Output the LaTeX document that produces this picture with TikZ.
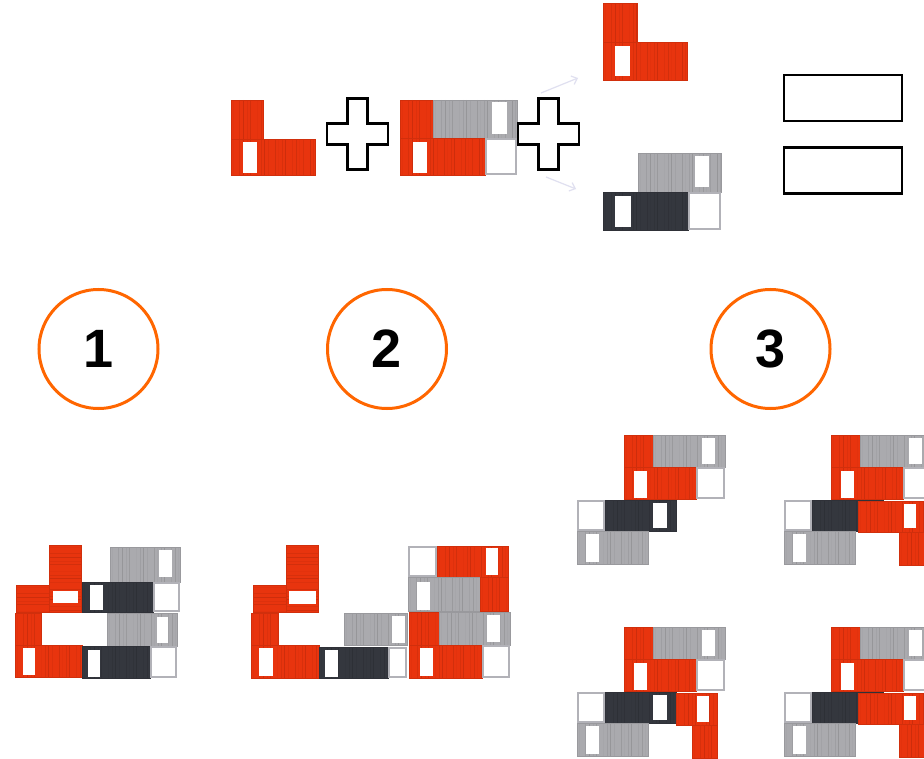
\documentclass[tikz,border=0pt]{standalone}
\usepackage{fontspec}
\newfontfamily\numfont{Liberation Sans}
\usetikzlibrary{arrows.meta}

\definecolor{cred}{RGB}{232,52,14}
\definecolor{cgray}{RGB}{170,170,174}
\definecolor{cdark}{RGB}{52,55,62}
\definecolor{cslot}{RGB}{178,178,184}
\definecolor{corange}{RGB}{255,102,0}
\definecolor{cfaint}{RGB}{224,224,240}

% container with vertical corrugation: colour, (x1,y1) to (x2,y2)
\newcommand\ctv[5]{%
  \fill[#1] (#2,#3) rectangle (#4,#5);
  \begin{scope}
    \clip (#2,#3) rectangle (#4,#5);
    \foreach \i in {0,...,22}{%
      \pgfmathsetmacro\xx{#2+2+\i*4.4+0.8*mod(\i*3,4)}%
      \pgfmathsetmacro\op{0.05+0.06*mod(\i*7,5)}%
      \draw[#1!60!black, opacity=\op, line width=0.8pt] (\xx,#3) -- (\xx,#5);
    }
  \end{scope}
  \draw[#1!90!black, line width=0.4pt] (#2,#3) rectangle (#4,#5);
}
% container standing on end, horizontal corrugation
\newcommand\cth[5]{%
  \fill[#1] (#2,#3) rectangle (#4,#5);
  \begin{scope}
    \clip (#2,#3) rectangle (#4,#5);
    \foreach \i in {0,...,22}{%
      \pgfmathsetmacro\yy{#3+2+\i*4.4+0.8*mod(\i*3,4)}%
      \pgfmathsetmacro\op{0.05+0.06*mod(\i*7,5)}%
      \draw[#1!60!black, opacity=\op, line width=0.8pt] (#2,\yy) -- (#4,\yy);
    }
  \end{scope}
  \draw[#1!90!black, line width=0.4pt] (#2,#3) rectangle (#4,#5);
}
% door opening
\newcommand\wnd[4]{\fill[white] (#1,#2) rectangle (#3,#4);}
% empty frame position
\newcommand\slt[4]{\filldraw[fill=white, draw=cslot, line width=2.4pt]
  (#1+1.2,#2+1.2) rectangle (#3-1.2,#4-1.2);}
% plus sign centred at (#1,#2)
\newcommand\plusmark[2]{%
  \draw[line width=2.4pt, line join=miter] (#1-10,#2-35.5) -- (#1+10,#2-35.5) -- (#1+10,#2-10.5)
    -- (#1+30.5,#2-10.5) -- (#1+30.5,#2+10.5) -- (#1+10,#2+10.5) -- (#1+10,#2+35.5)
    -- (#1-10,#2+35.5) -- (#1-10,#2+10.5) -- (#1-30.5,#2+10.5) -- (#1-30.5,#2-10.5)
    -- (#1-10,#2-10.5) -- cycle;}

% one arrangement of the third option (upper combo + lower grey/dark pair)
\newcommand\optthree{%
  \ctv{cred}{624}{435}{653}{467}
  \ctv{cgray}{653}{435}{725}{467} \wnd{702}{438}{715}{464}
  \ctv{cred}{624}{467}{696}{499} \wnd{634}{471}{647}{498}
  \slt{696}{467}{725}{499}
  \slt{577}{500}{605}{531}
  \ctv{cdark}{605}{500}{676}{531} \wnd{653}{503}{667}{528}
  \ctv{cgray}{577}{531}{648}{564} \wnd{586}{534}{599}{562}
}

\tikzset{
  numcirc/.style={circle, draw=corange, line width=3pt, minimum size=119pt,
    inner sep=0pt, font=\numfont\bfseries\fontsize{54}{54}\selectfont},
  eqbar/.style={draw, line width=2.2pt, minimum width=118pt, minimum height=46pt,
    inner sep=0pt},
  faintarrow/.style={draw=cfaint, line width=1.2pt, -{Straight Barb[length=5pt,width=9pt]}}
}

\begin{document}
\begin{tikzpicture}[x=1pt, y=-1pt]
\clip (0,0) rectangle (924,759);
\fill[white] (0,0) rectangle (924,759);

% ---- top row: L block + combo block + ...
\ctv{cred}{231}{100}{263}{139}
\ctv{cred}{231}{139}{315}{175} \wnd{243}{142}{257}{173}

\plusmark{357.5}{134}

\ctv{cred}{400}{100}{433}{138}
\ctv{cgray}{433}{100}{517}{138} \wnd{492}{102}{507}{134}
\ctv{cred}{400}{138}{485}{175} \wnd{413}{142}{427}{173}
\slt{485}{138}{517}{175}

\plusmark{548.5}{134}

\coordinate (a1s) at (541,93);  \coordinate (a1e) at (578,78);
\coordinate (a2s) at (546,177); \coordinate (a2e) at (576,189);
\draw[faintarrow] (a1s) -- (a1e);
\draw[faintarrow] (a2s) -- (a2e);

\ctv{cred}{603}{3}{637}{42}
\ctv{cred}{603}{42}{687}{80} \wnd{615}{46}{630}{76}

\ctv{cgray}{638}{153}{721}{192} \wnd{695}{156}{709}{187}
\ctv{cdark}{603}{192}{688}{230} \wnd{615}{196}{631}{227}
\slt{688}{192}{721}{230}

\node[eqbar] (eq1) at (843,98) {};
\node[eqbar] (eq2) at (843,170.5) {};

% ---- option numbers
\node[numcirc] (n1) at (98.5,349) {1};
\node[numcirc] (n2) at (387,349) {2};
\node[numcirc] (n3) at (770.5,349) {3};

% ---- option 1
\cth{cred}{49}{545}{81}{612} \wnd{53}{591}{78}{603}
\cth{cred}{16}{585}{49}{612}
\ctv{cred}{15}{613}{41}{645}
\ctv{cred}{15}{645}{82}{677} \wnd{23}{648}{35}{675}

\ctv{cgray}{110}{547}{180}{582} \wnd{159}{550}{172}{577}
\ctv{cdark}{82}{582}{153}{612} \wnd{90}{585}{103}{610}
\slt{153}{582}{180}{612}

\ctv{cgray}{107}{613}{177}{646} \wnd{157}{617}{168}{643}
\ctv{cdark}{82}{646}{150}{678} \wnd{88}{650}{100}{677}
\slt{150}{646}{177}{678}

% ---- option 2
\cth{cred}{286}{545}{318}{612} \wnd{289}{591}{316}{604}
\cth{cred}{253}{585}{286}{612}
\ctv{cred}{251}{613}{278}{645}
\ctv{cred}{251}{645}{319}{678} \wnd{259}{648}{273}{676}

\ctv{cgray}{344}{613}{407}{645} \wnd{392}{616}{405}{643}
\ctv{cdark}{319}{647}{388}{678} \wnd{325}{650}{338}{677}
\slt{388}{647}{407}{678}

\slt{408}{546}{437}{577}
\ctv{cred}{437}{546}{508}{577} \wnd{486}{548}{498}{575}
\ctv{cgray}{408}{577}{480}{611} \wnd{417}{582}{430}{610}
\ctv{cred}{480}{577}{508}{611}
\ctv{cred}{409}{612}{439}{645}
\ctv{cgray}{439}{612}{510}{645} \wnd{487}{615}{500}{642}
\ctv{cred}{409}{645}{482}{678} \wnd{420}{648}{433}{676}
\slt{482}{645}{510}{678}

% ---- option 3, four arrangements
\optthree

\begin{scope}[shift={(207,0)}]
  \optthree
  \ctv{cred}{651}{501}{725}{532} \wnd{697}{504}{709}{528}
  \ctv{cred}{692}{532}{725}{565}
\end{scope}

\begin{scope}[shift={(0,192)}]
  \optthree
  \ctv{cred}{676}{501}{717}{533} \wnd{697}{504}{709}{530}
  \ctv{cred}{692}{533}{717}{566}
\end{scope}

\begin{scope}[shift={(207,192)}]
  \optthree
  \ctv{cred}{651}{501}{725}{532} \wnd{697}{504}{709}{528}
  \ctv{cred}{692}{532}{725}{565}
\end{scope}
\end{tikzpicture}
\end{document}
